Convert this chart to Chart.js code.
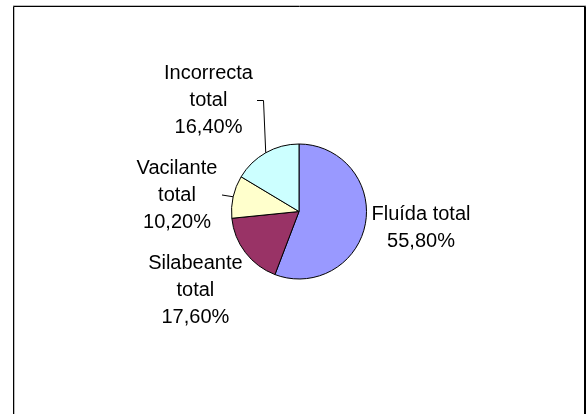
<!DOCTYPE html>
<html>
<head>
<meta charset="utf-8">
<script src="https://cdn.jsdelivr.net/npm/chart.js@4/dist/chart.umd.min.js"></script>
<style>
  html, body { margin: 0; padding: 0; background: #fff; }
  #wrap { width: 587px; height: 414px; position: relative; }
</style>
</head>
<body>
<div id="wrap"><canvas id="c" width="587" height="414"></canvas></div>
<script>
// Reading categories and their shares (%)
const categories = ['Fluída total', 'Silabeante total', 'Vacilante total', 'Incorrecta total'];
const shares = [55.8, 17.6, 10.2, 16.4];

// Slice fills
const sliceColors = ['#9999FF', '#993366', '#FFFFCC', '#CCFFFF'];

// Label placement: block centre offset from the pie centre (px), whether the name wraps,
// and leader line points relative to the label centre
const labelLayout = [
  { dx: 122, dy: 16, wrap: false, leader: null },
  { dx: -103.6, dy: 78.5, wrap: true, leader: null },
  { dx: -122, dy: -16.5, wrap: true, leader: [[45, 0]] },
  { dx: -90.5, dy: -111, wrap: true, leader: [[55, 0], [48.5, 0]] }
];

const fmtPct = v => v.toFixed(2).replace('.', ',') + '%';

// Outer chart frame (open at the bottom edge of the canvas)
const framePlugin = {
  id: 'frame',
  beforeDraw(chart) {
    const ctx = chart.ctx;
    ctx.save();
    ctx.fillStyle = '#fff';
    ctx.fillRect(0, 0, chart.width, chart.height);
    ctx.lineWidth = 1;
    ctx.strokeStyle = '#bbb';
    ctx.beginPath();
    ctx.moveTo(13, 5.5); ctx.lineTo(586, 5.5);
    ctx.moveTo(14.5, 7); ctx.lineTo(14.5, 414);
    ctx.stroke();
    ctx.strokeStyle = '#000';
    ctx.beginPath();
    ctx.moveTo(13.5, 414); ctx.lineTo(13.5, 6.5); ctx.lineTo(585.5, 6.5); ctx.lineTo(585.5, 414);
    ctx.moveTo(584.5, 7); ctx.lineTo(584.5, 414);
    ctx.stroke();
    ctx.restore();
  }
};

const labelPlugin = {
  id: 'sliceLabels',
  afterDatasetsDraw(chart) {
    const ctx = chart.ctx;
    const meta = chart.getDatasetMeta(0);
    ctx.save();
    ctx.font = '20px "Liberation Sans", Arial, sans-serif';
    ctx.fillStyle = '#000';
    ctx.textAlign = 'center';
    ctx.textBaseline = 'middle';
    const lineH = 27;
    meta.data.forEach((arc, i) => {
      const cx = arc.x, cy = arc.y;
      const L = labelLayout[i];
      const lx = cx + L.dx, ly = cy + L.dy;
      const name = categories[i];
      const lines = L.wrap ? name.split(' ') : [name];
      lines.push(fmtPct(shares[i]));
      const top = ly - (lines.length - 1) * lineH / 2;
      lines.forEach((t, k) => ctx.fillText(t, lx, top + k * lineH));
      if (L.leader) {
        const mid = (arc.startAngle + arc.endAngle) / 2;
        const r = arc.outerRadius;
        ctx.beginPath();
        ctx.strokeStyle = '#000';
        ctx.lineWidth = 1;
        ctx.moveTo(cx + r * Math.cos(mid), cy + r * Math.sin(mid));
        L.leader.forEach(p => ctx.lineTo(lx + p[0], ly + p[1]));
        ctx.stroke();
      }
    });
    ctx.restore();
  }
};

new Chart(document.getElementById('c'), {
  type: 'pie',
  data: {
    labels: categories,
    datasets: [{
      data: shares,
      backgroundColor: sliceColors,
      borderColor: '#000',
      borderWidth: 1
    }]
  },
  options: {
    responsive: false,
    animation: false,
    devicePixelRatio: 1,
    radius: 67.5,
    layout: { padding: { left: 111, right: 100, top: 59, bottom: 50 } },
    plugins: {
      legend: { display: false },
      tooltip: { enabled: false },
      title: { display: false }
    }
  },
  plugins: [framePlugin, labelPlugin]
});
</script>
</body>
</html>
